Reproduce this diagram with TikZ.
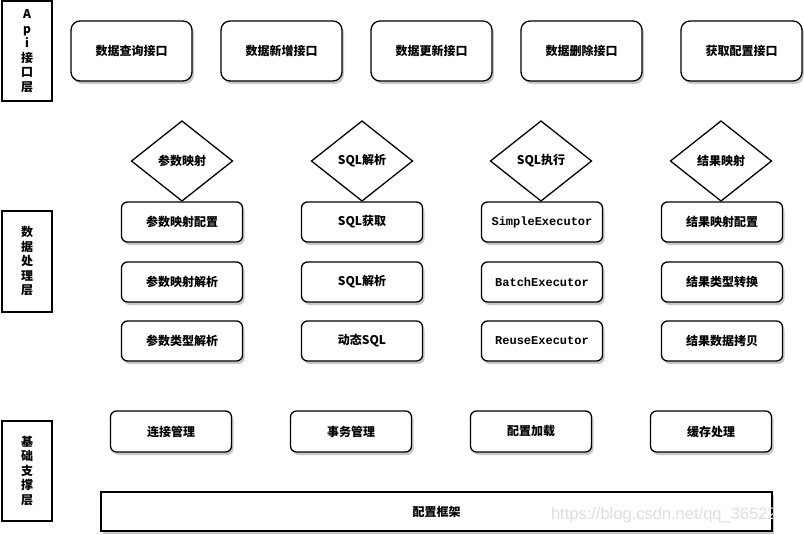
\documentclass[tikz,border=0pt]{standalone}
\usepackage{fontspec}
\setmainfont{Liberation Sans}
\newfontfamily\cjk{Noto Sans CJK SC}
\newfontfamily\mono{Liberation Mono}
\newfontfamily\wm{Liberation Sans}
\usetikzlibrary{shapes.geometric,shadows}
\begin{document}
\begin{tikzpicture}[x=1pt,y=-1pt,
  every node/.style={inner sep=0pt, outer sep=0pt},
  base/.style={draw=black, line width=1.3pt, fill=white, font=\cjk\bfseries\fontsize{12}{14}\selectfont, align=center},
  shade/.style={drop shadow={shadow xshift=2pt, shadow yshift=-3pt, fill=black!30, opacity=0.7}},
  layerbox/.style={base, rectangle, minimum width=50pt, font=\cjk\bfseries\fontsize{12}{14.5}\selectfont},
  apibox/.style={base, shade, rectangle, rounded corners=9pt, minimum width=121pt, minimum height=60pt},
  databox/.style={base, shade, rectangle, rounded corners=6pt, minimum width=121pt, minimum height=40pt},
  basebox/.style={base, shade, rectangle, rounded corners=6pt, minimum width=121pt, minimum height=41pt},
  dia/.style={base, diamond, minimum width=101pt, minimum height=80pt},
  exe/.style={font=\mono\bfseries\fontsize{12}{14}\selectfont}
]
\useasboundingbox (0,0) rectangle (804,535);
\fill[white] (0,0) rectangle (804,535);

% layer labels
\node[layerbox, minimum height=100pt] (lapi) at (27,51) {A\\p\\i\\接\\口\\层};
\node[layerbox, minimum height=101pt] (ldata) at (27,261.5) {数\\据\\处\\理\\层};
\node[layerbox, minimum height=100pt] (lbase) at (27,471) {基\\础\\支\\撑\\层};

% API layer
\node[apibox] (a1) at (131.5,51) {数据查询接口};
\node[apibox] (a2) at (281.5,51) {数据新增接口};
\node[apibox] (a3) at (431.5,51) {数据更新接口};
\node[apibox] (a4) at (581.5,51) {数据删除接口};
\node[apibox] (a5) at (741.5,51) {获取配置接口};

% data processing: diamonds
\node[dia] (d1) at (182,161) {参数映射};
\node[dia] (d2) at (362,161) {SQL解析};
\node[dia] (d3) at (541,161) {SQL执行};
\node[dia] (d4) at (721,161) {结果映射};

% column 1
\node[databox] (p1) at (182,222) {参数映射配置};
\node[databox] (p2) at (182,282) {参数映射解析};
\node[databox] (p3) at (182,341) {参数类型解析};
% column 2
\node[databox] (s1) at (362,222) {SQL获取};
\node[databox] (s2) at (362,282) {SQL解析};
\node[databox] (s3) at (362,341) {动态SQL};
% column 3
\node[databox, exe] (e1) at (542,222) {SimpleExecutor};
\node[databox, exe] (e2) at (542,282) {BatchExecutor};
\node[databox, exe] (e3) at (542,341) {ReuseExecutor};
% column 4
\node[databox] (r1) at (722,222) {结果映射配置};
\node[databox] (r2) at (722,282) {结果类型转换};
\node[databox] (r3) at (722,341) {结果数据拷贝};

% base layer
\node[basebox] (b1) at (171,431.5) {连接管理};
\node[basebox] (b2) at (351,431.5) {事务管理};
\node[basebox] (b3) at (531,431.5) {配置加载};
\node[basebox] (b4) at (711,431.5) {缓存处理};
\node[base, shade, rectangle, minimum width=671pt, minimum height=39pt] (frame) at (436.5,511.5) {配置框架};

% watermark
\begin{scope}
\clip (0,0) rectangle (772,535);
\node[anchor=west, text=black!13, font=\wm\fontsize{16.5}{17}\selectfont] (wmark) at (551,515) {https://blog.csdn.net/qq\_365223};
\end{scope}
\end{tikzpicture}
\end{document}
